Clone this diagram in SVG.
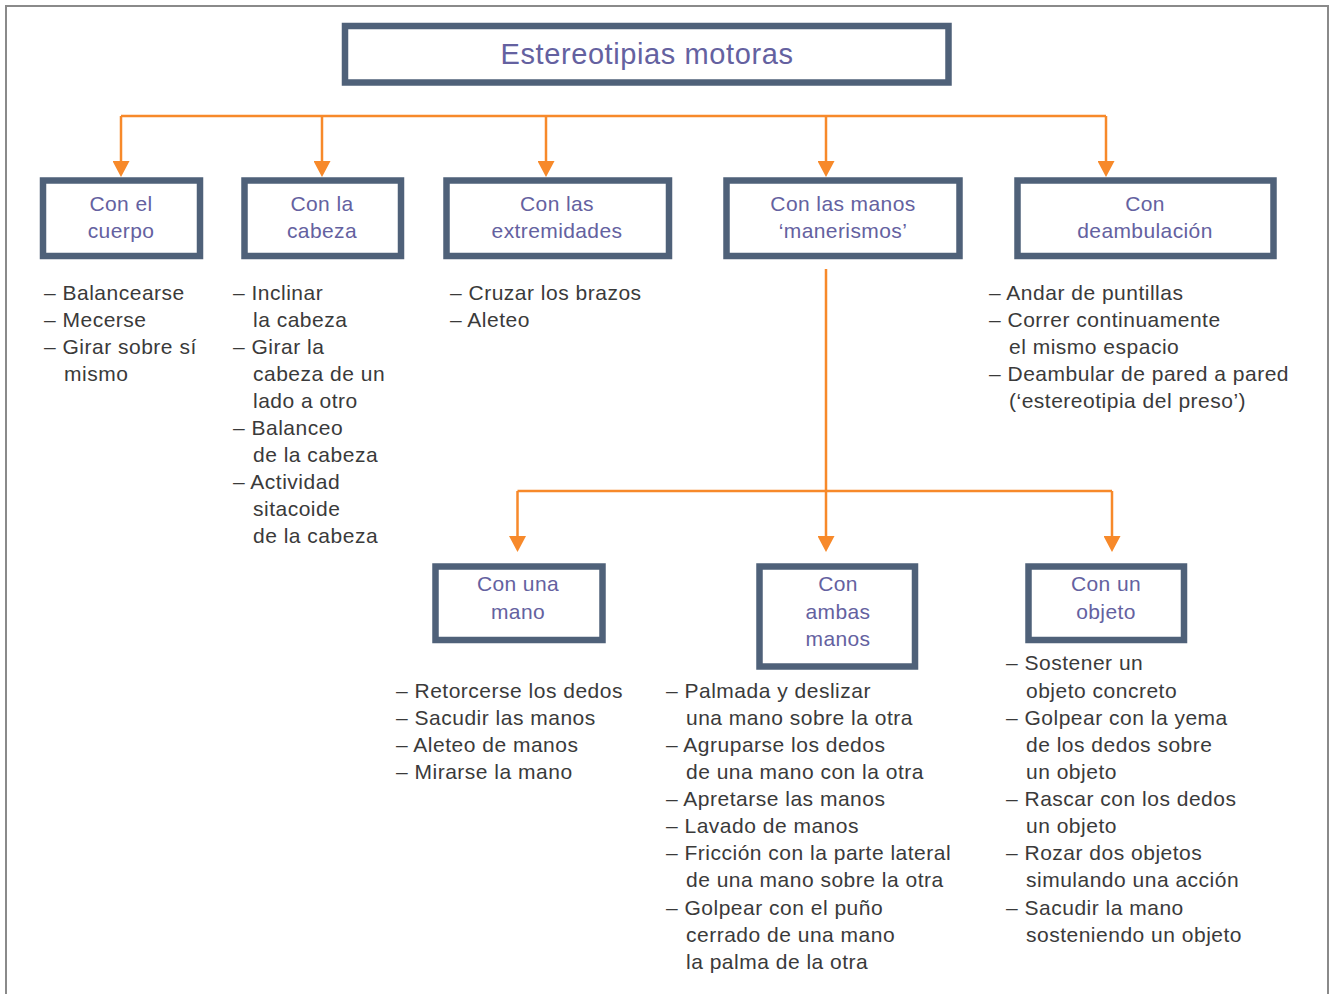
<svg xmlns="http://www.w3.org/2000/svg" width="1332" height="994" viewBox="0 0 1332 994">
  <style>
    .box { fill: #ffffff; stroke: #4f6179; stroke-width: 6.5; }
    .lbl { font-family: "Liberation Sans", Arial, sans-serif; font-size: 21px; fill: #6461a0; text-anchor: middle; letter-spacing: 0.4px; }
    .ttl { font-family: "Liberation Sans", Arial, sans-serif; font-size: 29px; fill: #6461a0; text-anchor: middle; letter-spacing: 0.6px; }
    .lst { font-family: "Liberation Sans", Arial, sans-serif; font-size: 21px; fill: #3a3a3a; letter-spacing: 0.5px; }
    .wire { fill: none; stroke: #f7892a; stroke-width: 2.5; }
    .frame { fill: none; stroke: #8a8a8a; stroke-width: 2; }
  </style>
  <defs>
    <!-- arrowhead: base sits on the line end, tip points along the path -->
    <marker id="tip" viewBox="0 0 16 17" refX="0" refY="8.5" markerWidth="16" markerHeight="17" markerUnits="userSpaceOnUse" orient="auto">
      <path d="M0,0 L16,8.5 L0,17 Z" fill="#f7892a"/>
    </marker>
  </defs>

  <rect width="1332" height="994" fill="#ffffff"/>
  <path class="frame" d="M6,994 V6 H1328 V994"/>

  <!-- connectors -->
  <g id="connectors">
    <path class="wire" d="M121,116 H1106"/>
    <path class="wire" d="M121,116 V161" marker-end="url(#tip)"/>
    <path class="wire" d="M322,116 V161" marker-end="url(#tip)"/>
    <path class="wire" d="M546,116 V161" marker-end="url(#tip)"/>
    <path class="wire" d="M826,116 V161" marker-end="url(#tip)"/>
    <path class="wire" d="M1106,116 V161" marker-end="url(#tip)"/>
    <path class="wire" d="M826,269 V536" marker-end="url(#tip)"/>
    <path class="wire" d="M517.5,491 H1112"/>
    <path class="wire" d="M517.5,491 V536" marker-end="url(#tip)"/>
    <path class="wire" d="M1112,491 V536" marker-end="url(#tip)"/>
  </g>

  <!-- root -->
  <g id="root">
    <rect class="box" x="345" y="26" width="603.5" height="56.5"/>
    <text class="ttl" x="647" y="64">Estereotipias motoras</text>
  </g>

  <!-- first level -->
  <g id="cuerpo">
    <rect class="box" x="43" y="180.5" width="157" height="75.5"/>
    <text class="lbl" x="121" y="211">Con el</text>
    <text class="lbl" x="121" y="238">cuerpo</text>
  </g>
  <g id="cabeza">
    <rect class="box" x="244.5" y="180.5" width="156.5" height="75.5"/>
    <text class="lbl" x="322" y="211">Con la</text>
    <text class="lbl" x="322" y="238">cabeza</text>
  </g>
  <g id="extremidades">
    <rect class="box" x="446.5" y="180.5" width="222.5" height="75.5"/>
    <text class="lbl" x="557" y="211">Con las</text>
    <text class="lbl" x="557" y="238">extremidades</text>
  </g>
  <g id="manos">
    <rect class="box" x="726.5" y="180.5" width="233" height="75.5"/>
    <text class="lbl" x="843" y="211">Con las manos</text>
    <text class="lbl" x="843" y="238">‘manerismos’</text>
  </g>
  <g id="deambulacion">
    <rect class="box" x="1017.5" y="180.5" width="256" height="75.5"/>
    <text class="lbl" x="1145" y="211">Con</text>
    <text class="lbl" x="1145" y="238">deambulación</text>
  </g>

  <!-- second level -->
  <g id="una-mano">
    <rect class="box" x="435.5" y="566.5" width="167" height="73.5"/>
    <text class="lbl" x="518" y="591">Con una</text>
    <text class="lbl" x="518" y="619">mano</text>
  </g>
  <g id="ambas-manos">
    <rect class="box" x="759.5" y="566.5" width="155.5" height="100"/>
    <text class="lbl" x="838" y="591">Con</text>
    <text class="lbl" x="838" y="619">ambas</text>
    <text class="lbl" x="838" y="646">manos</text>
  </g>
  <g id="un-objeto">
    <rect class="box" x="1028.5" y="566.5" width="155.5" height="73.5"/>
    <text class="lbl" x="1106" y="591">Con un</text>
    <text class="lbl" x="1106" y="619">objeto</text>
  </g>

  <!-- item lists -->
  <g id="list-cuerpo" class="lst">
    <text x="44" y="300">– Balancearse</text>
    <text x="44" y="327">– Mecerse</text>
    <text x="44" y="354">– Girar sobre sí</text>
    <text x="64" y="381">mismo</text>
  </g>
  <g id="list-cabeza" class="lst">
    <text x="233" y="300">– Inclinar</text>
    <text x="253" y="327">la cabeza</text>
    <text x="233" y="354">– Girar la</text>
    <text x="253" y="381">cabeza de un</text>
    <text x="253" y="408">lado a otro</text>
    <text x="233" y="435">– Balanceo</text>
    <text x="253" y="462">de la cabeza</text>
    <text x="233" y="489">– Actividad</text>
    <text x="253" y="516">sitacoide</text>
    <text x="253" y="543">de la cabeza</text>
  </g>
  <g id="list-extremidades" class="lst">
    <text x="450" y="300">– Cruzar los brazos</text>
    <text x="450" y="327">– Aleteo</text>
  </g>
  <g id="list-deambulacion" class="lst">
    <text x="989" y="300">– Andar de puntillas</text>
    <text x="989" y="327">– Correr continuamente</text>
    <text x="1009" y="354">el mismo espacio</text>
    <text x="989" y="381">– Deambular de pared a pared</text>
    <text x="1009" y="408">(‘estereotipia del preso’)</text>
  </g>
  <g id="list-una-mano" class="lst">
    <text x="396" y="698">– Retorcerse los dedos</text>
    <text x="396" y="725">– Sacudir las manos</text>
    <text x="396" y="752">– Aleteo de manos</text>
    <text x="396" y="779">– Mirarse la mano</text>
  </g>
  <g id="list-ambas-manos" class="lst">
    <text x="666" y="698">– Palmada y deslizar</text>
    <text x="686" y="725">una mano sobre la otra</text>
    <text x="666" y="752">– Agruparse los dedos</text>
    <text x="686" y="779">de una mano con la otra</text>
    <text x="666" y="806">– Apretarse las manos</text>
    <text x="666" y="833">– Lavado de manos</text>
    <text x="666" y="860">– Fricción con la parte lateral</text>
    <text x="686" y="887">de una mano sobre la otra</text>
    <text x="666" y="915">– Golpear con el puño</text>
    <text x="686" y="942">cerrado de una mano</text>
    <text x="686" y="969">la palma de la otra</text>
  </g>
  <g id="list-un-objeto" class="lst">
    <text x="1006" y="670">– Sostener un</text>
    <text x="1026" y="698">objeto concreto</text>
    <text x="1006" y="725">– Golpear con la yema</text>
    <text x="1026" y="752">de los dedos sobre</text>
    <text x="1026" y="779">un objeto</text>
    <text x="1006" y="806">– Rascar con los dedos</text>
    <text x="1026" y="833">un objeto</text>
    <text x="1006" y="860">– Rozar dos objetos</text>
    <text x="1026" y="887">simulando una acción</text>
    <text x="1006" y="915">– Sacudir la mano</text>
    <text x="1026" y="942">sosteniendo un objeto</text>
  </g>
</svg>
